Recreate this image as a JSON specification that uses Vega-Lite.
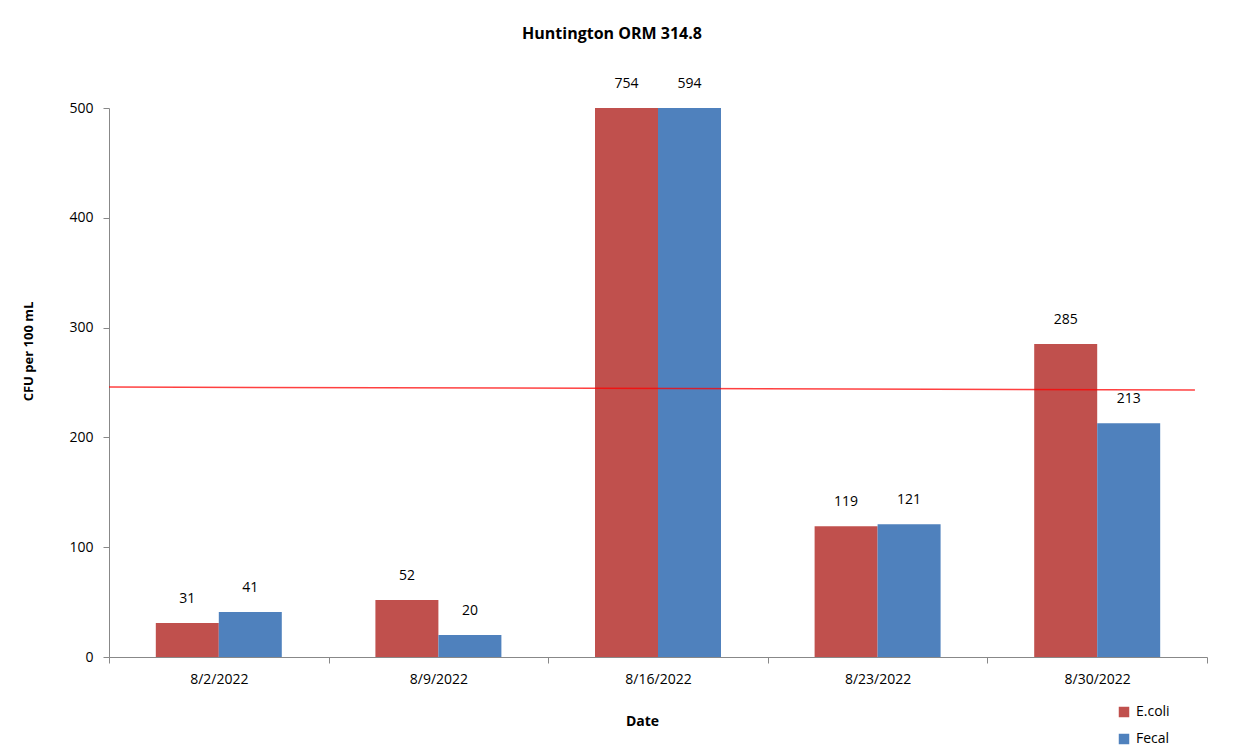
{
  "$schema": "https://vega.github.io/schema/vega-lite/v6.json",
  "width": 1098,
  "height": 549,
  "autosize": {"type": "none"},
  "padding": {"left": 109, "top": 108, "right": 45, "bottom": 99},
  "background": "white",
  "config": {
    "font": "Open Sans",
    "view": {"stroke": null},
    "axis": {"labelFont": "Open Sans", "titleFont": "Open Sans", "labelColor": "#000", "titleColor": "#000", "domainColor": "#888", "tickColor": "#888", "grid": false}
  },
  "title": {
    "text": "Huntington ORM 314.8",
    "fontSize": 16,
    "fontWeight": "bold",
    "color": "#000",
    "anchor": "middle",
    "dx": -46,
    "offset": 35
  },
  "datasets": {
    "bars": [
      {"Date": "8/2/2022", "Type": "E.coli", "CFU": 31},
      {"Date": "8/2/2022", "Type": "Fecal", "CFU": 41},
      {"Date": "8/9/2022", "Type": "E.coli", "CFU": 52},
      {"Date": "8/9/2022", "Type": "Fecal", "CFU": 20},
      {"Date": "8/16/2022", "Type": "E.coli", "CFU": 754},
      {"Date": "8/16/2022", "Type": "Fecal", "CFU": 594},
      {"Date": "8/23/2022", "Type": "E.coli", "CFU": 119},
      {"Date": "8/23/2022", "Type": "Fecal", "CFU": 121},
      {"Date": "8/30/2022", "Type": "E.coli", "CFU": 285},
      {"Date": "8/30/2022", "Type": "Fecal", "CFU": 213}
    ],
    "threshold": [
      {"pos": 0, "CFU": 245.9},
      {"pos": 0.989, "CFU": 243.2}
    ]
  },
  "resolve": {"scale": {"x": "independent"}},
  "layer": [
    {
      "data": {"name": "bars"},
      "encoding": {
        "x": {
          "field": "Date", "type": "nominal", "sort": null,
          "scale": {"paddingInner": 0, "paddingOuter": 0},
          "axis": {
            "title": "Date", "titleFontSize": 14, "titleFontWeight": "bold",
            "titleX": 533, "titleY": 64, "titleBaseline": "middle",
            "labelAngle": 0, "labelFontSize": 14, "labelPadding": 9,
            "tickBand": "extent", "tickSize": 6, "domainColor": "#888"
          }
        },
        "xOffset": {
          "field": "Type", "type": "nominal",
          "scale": {"paddingInner": 0, "paddingOuter": 0.743}
        },
        "y": {
          "field": "CFU", "type": "quantitative",
          "scale": {"domain": [0, 500], "clamp": true, "nice": false},
          "axis": {
            "title": "CFU per 100 mL", "titleFontSize": 13, "titleFontWeight": "bold",
            "titleX": -81, "titleY": 243, "titleAlign": "center", "titleBaseline": "middle",
            "values": [0, 100, 200, 300, 400, 500],
            "labelFontSize": 14, "labelPadding": 10, "tickSize": 6
          }
        }
      },
      "layer": [
        {
          "mark": {"type": "bar"},
          "encoding": {
            "color": {
              "field": "Type", "type": "nominal",
              "scale": {"domain": ["E.coli", "Fecal"], "range": ["#C0504D", "#4F81BD"]},
              "legend": {
                "title": null, "orient": "none", "legendX": 1008, "legendY": 597,
                "symbolType": "square", "symbolSize": 110, "symbolStrokeWidth": 0,
                "labelFontSize": 14, "labelColor": "#000", "rowPadding": 13, "labelOffset": 5
              }
            }
          }
        },
        {
          "mark": {"type": "text", "dy": -24, "fontSize": 14, "color": "#000", "baseline": "middle"},
          "encoding": {
            "text": {"field": "CFU", "type": "quantitative"}
          }
        }
      ]
    },
    {
      "data": {"name": "threshold"},
      "mark": {"type": "line", "color": "#FF0000", "strokeWidth": 1.5, "opacity": 0.75},
      "encoding": {
        "x": {"field": "pos", "type": "quantitative", "scale": {"domain": [0, 1], "nice": false, "zero": false}, "axis": null},
        "y": {"field": "CFU", "type": "quantitative"}
      }
    }
  ]
}
